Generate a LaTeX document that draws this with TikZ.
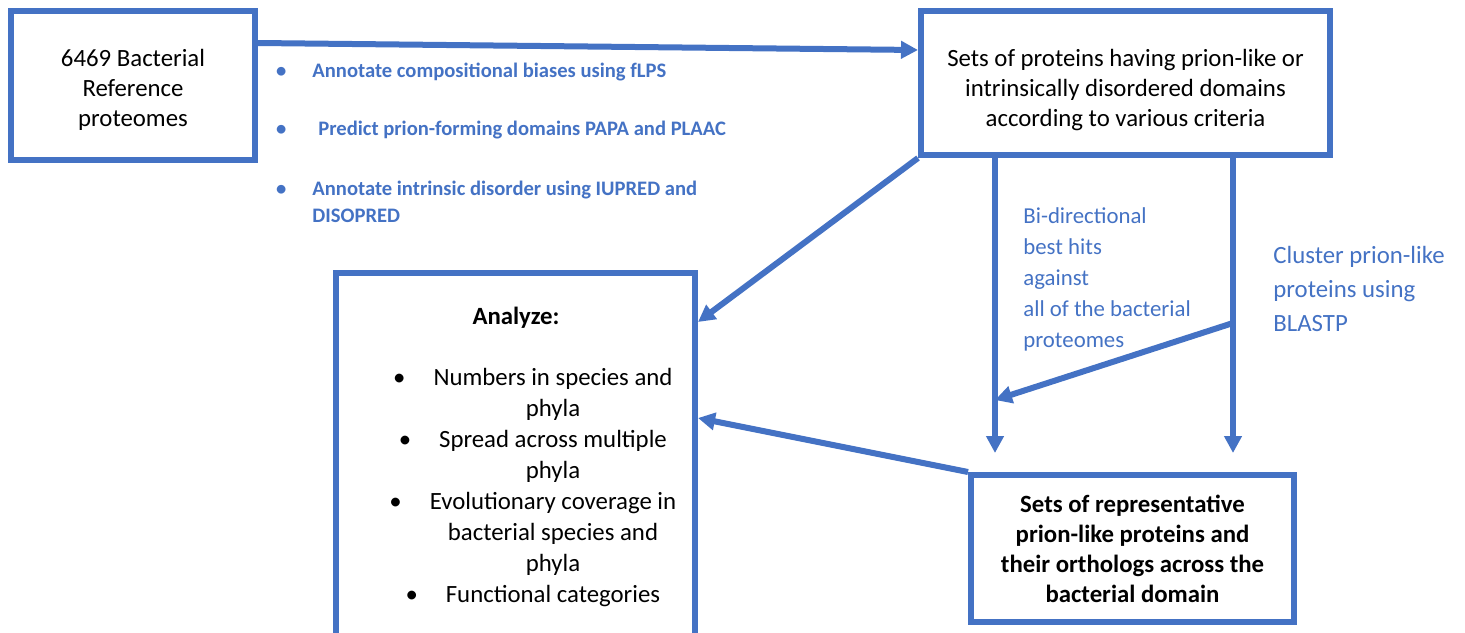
\documentclass[tikz,border=0pt]{standalone}
\usepackage{fontspec}
\setmainfont{Carlito}
\usetikzlibrary{positioning,arrows.meta,calc}
\definecolor{flowblue}{HTML}{4472C4}

\begin{document}
\begin{tikzpicture}[x=0.5pt,y=-0.5pt,
    box/.style={draw=flowblue, line width=3pt, align=center, inner sep=0pt,
        font=\fontsize{12.4}{15}\selectfont},
    flow/.style={draw=flowblue, line width=3pt, -{Triangle[width=8.5pt,length=8.5pt]}},
    steplabel/.style={text=flowblue, align=left, inner sep=0pt, anchor=west}]
    \useasboundingbox (0,0) rectangle (1465,632);

    % Boxes
    \node[box, minimum width=122pt, minimum height=74.5pt] (ref) at (133,85.5)
        {\rule{0pt}{12.6pt}6469 Bacterial\\Reference\\proteomes};
    \node[box, minimum width=204.5pt, minimum height=72pt] (sets) at (1125.5,83)
        {\rule{0pt}{15.3pt}Sets of proteins having prion-like or\\intrinsically disordered domains\\according to various criteria};
    \node[box, minimum width=179.5pt, minimum height=192pt] (analyze) at (515.5,465) {};
    \node[box, font=\bfseries\fontsize{12.4}{15}\selectfont, minimum width=161.5pt, minimum height=73.5pt] (reps) at (1132.5,548.5)
        {Sets of representative\\prion-like proteins and\\their orthologs across the\\bacterial domain};

    % Analyze contents
    \node[inner sep=0pt, font=\bfseries\fontsize{12.4}{15}\selectfont] (analyzehead) at (516,318) {Analyze:};
    \node[inner sep=0pt, align=center, font=\fontsize{12.4}{15.5}\selectfont] (analyzelist) at (553,487.5)
        {\llap{\textbullet\hspace{14pt}}Numbers in species and\\phyla\\
         \llap{\textbullet\hspace{14pt}}Spread across multiple\\phyla\\
         \llap{\textbullet\hspace{14pt}}Evolutionary coverage in\\bacterial species and\\phyla\\
         \llap{\textbullet\hspace{14pt}}Functional categories};

    % Annotation steps
    \node[steplabel, font=\bfseries\fontsize{10.3}{13.5}\selectfont] (flps) at (312,72)
        {\llap{\textbullet\hspace{13pt}}Annotate compositional biases using fLPS};
    \node[steplabel, font=\bfseries\fontsize{10.3}{13.5}\selectfont] (papa) at (318,130)
        {\llap{\textbullet\hspace{16pt}}Predict prion-forming domains PAPA and PLAAC};
    \node[steplabel, font=\bfseries\fontsize{10.3}{13.5}\selectfont] (iupred) at (312,201.5)
        {\llap{\textbullet\hspace{13pt}}Annotate intrinsic disorder using IUPRED and\\DISOPRED};

    \node[steplabel, font=\fontsize{11.4}{15.5}\selectfont] (bbh) at (1023,279)
        {Bi-directional\\best hits\\against\\all of the bacterial\\proteomes};
    \node[steplabel, font=\fontsize{12.4}{17}\selectfont] (blastp) at (1273,289)
        {Cluster prion-like\\proteins using\\BLASTP};

    % Connectors
    \draw[flow] ([yshift=-17.5pt]ref.north east) -- ([yshift=16.5pt]sets.west);
    \draw[flow] (sets.south west) -- ([yshift=-26pt]analyze.north east);
    \draw[flow] (reps.north west) -- ([yshift=-74pt]analyze.north east);

    \coordinate (lsplit) at ([xshift=38.5pt]sets.south west);
    \coordinate (rsplit) at ([xshift=-50pt]sets.south east);
    \draw[flow, shorten >=9.5pt] (lsplit) -- (lsplit |- reps.north);
    \draw[flow, shorten >=9.5pt] (rsplit) -- (rsplit |- reps.north);

    \coordinate (cross) at ([yshift=-82.5pt]rsplit);
    \coordinate (merge) at ([yshift=-121pt]lsplit);
    \draw[flow] (cross) -- (merge);
\end{tikzpicture}
\end{document}
